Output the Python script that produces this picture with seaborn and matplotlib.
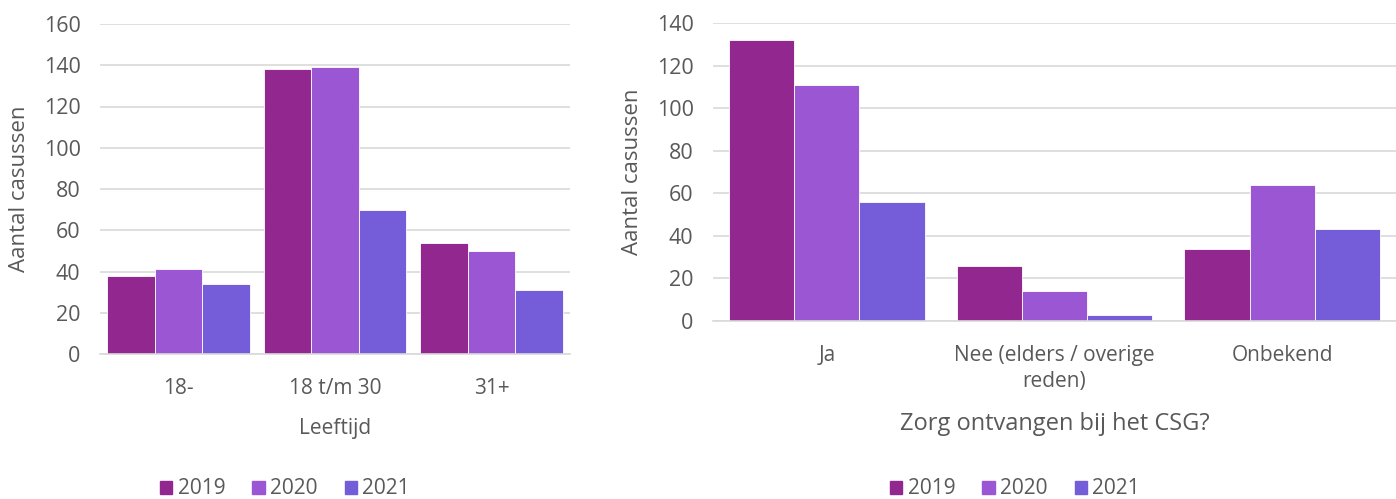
import pandas as pd
import seaborn as sns
import matplotlib.pyplot as plt

# data
years = ["2019", "2020", "2021"]
colors = ["#92278F", "#9B57D3", "#755DD9"]

age_groups = ["18-", "18 t/m 30", "31+"]
age_2019 = [38, 138, 54]
age_2020 = [41, 139, 50]
age_2021 = [34, 70, 31]

care_groups = ["Ja", "Nee (elders / overige\nreden)", "Onbekend"]
care_2019 = [132, 26, 34]
care_2020 = [111, 14, 64]
care_2021 = [56, 3, 43]


def long_form(groups, series):
    rows = []
    for year, vals in zip(years, series):
        for g, v in zip(groups, vals):
            rows.append({"groep": g, "jaar": year, "aantal": v})
    return pd.DataFrame(rows)


df_age = long_form(age_groups, [age_2019, age_2020, age_2021])
df_care = long_form(care_groups, [care_2019, care_2020, care_2021])

sns.set_theme(style="white")
plt.rcParams['font.family'] = ['Open Sans', 'DejaVu Sans']
text_col = "#595959"

fig = plt.figure(figsize=(13.96, 4.99), dpi=100)
W, H = 1396, 499
ax1 = fig.add_axes([100 / W, 1 - 354 / H, 470 / W, 330 / H])
ax2 = fig.add_axes([713 / W, 1 - 321 / H, 683 / W, 298 / H])


def style(ax, ymax, xlabel, fs_label):
    ax.set_ylim(0, ymax)
    ax.set_xlim(-0.5, 2.5)
    ax.set_yticks(range(0, ymax + 1, 20))
    ax.yaxis.grid(True, color="#D9D9D9", linewidth=1.2)
    ax.set_axisbelow(True)
    for s in ["top", "right", "left"]:
        ax.spines[s].set_visible(False)
    ax.spines["bottom"].set_color("#D9D9D9")
    ax.spines["bottom"].set_linewidth(1.2)
    ax.tick_params(axis="both", length=0, colors=text_col)
    ax.tick_params(axis="y", labelsize=15.5, pad=14)
    ax.tick_params(axis="x", labelsize=15, pad=17)
    ax.set_xlabel(xlabel, color=text_col, fontsize=fs_label, labelpad=14)
    ax.set_ylabel("Aantal casussen", color=text_col, fontsize=16, labelpad=10)
    ax.get_legend().remove()


sns.barplot(data=df_age, x="groep", y="aantal", hue="jaar", palette=colors,
            saturation=1, width=0.91, gap=0, edgecolor="white",
            linewidth=0.6, ax=ax1)
style(ax1, 160, "Leeftijd", 15)

sns.barplot(data=df_care, x="groep", y="aantal", hue="jaar", palette=colors,
            saturation=1, width=0.86, gap=0, edgecolor="white",
            linewidth=0.6, ax=ax2)
style(ax2, 140, "Zorg ontvangen bij het CSG?", 17)
for lbl in ax2.get_xticklabels():
    lbl.set_linespacing(1.35)
    lbl.set_verticalalignment("top")

handles = [plt.Rectangle((0, 0), 1, 1, color=c) for c in colors]
for cx in [285 / W, 1015 / W]:
    fig.legend(handles, years, loc="center", bbox_to_anchor=(cx, 1 - 489 / H),
               ncol=3, frameon=False, fontsize=15, handlelength=0.6,
               handleheight=0.6, handletextpad=0.25, columnspacing=1.3,
               labelcolor=text_col)

fig.savefig("out.png", dpi=100)
